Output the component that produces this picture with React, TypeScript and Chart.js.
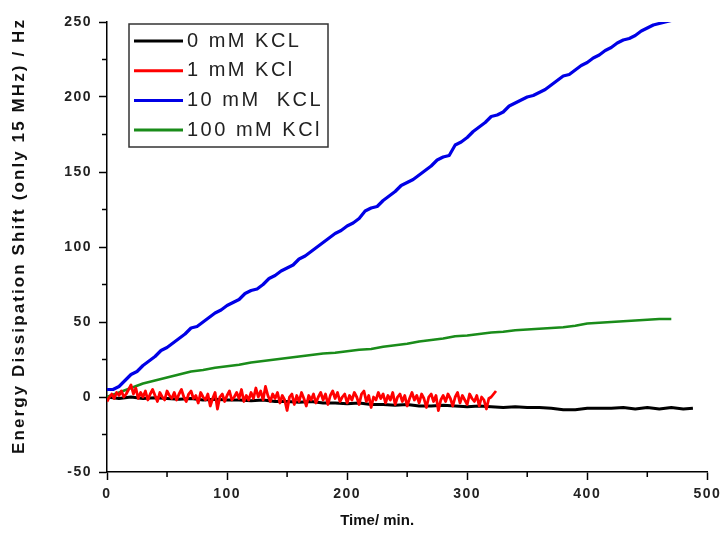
import React, { useEffect, useRef } from 'react';
import { Chart, registerables } from 'chart.js';

Chart.register(...registerables);

// ---------------- data ----------------
const seriesLabels = ['0 mM KCL', '1 mM KCl', '10 mM  KCL', '100 mM KCl'];
const seriesColors = ['#000000', '#ff0000', '#0000e6', '#1a8c1a'];

const xTickValues = [0, 100, 200, 300, 400, 500];
const yTickValues = [-50, 0, 50, 100, 150, 200, 250];
const xMinorTicks = [50, 150, 250, 350, 450];
const yMinorTicks = [-25, 25, 75, 125, 175, 225];

// 0 mM KCL (black), sampled every 10 min, last point at 488 min
const blackTimes = [0, 10, 20, 30, 40, 50, 60, 70, 80, 90, 100, 110, 120, 130, 140, 150, 160, 170, 180, 190, 200, 210, 220, 230, 240, 250, 260, 270, 280, 290, 300, 310, 320, 330, 340, 350, 360, 370, 380, 390, 400, 410, 420, 430, 440, 450, 460, 470, 480, 488];
const blackValues = [0, -1, 0, -1, -0.5, -1, -1.5, -1, -2, -1.5, -2, -2, -2.5, -2, -3, -3, -3.5, -3, -4, -4, -4.5, -4, -5, -5, -5.5, -5, -6, -6, -5.5, -6, -6.5, -6, -6.5, -7, -6.5, -7, -7, -7.5, -8.5, -8.5, -7.5, -7.5, -7.5, -7, -8, -7, -8, -7, -8, -7.5];

// 1 mM KCl (red), sampled every 2 min, 0..324 min
const redStartMin = 0;
const redStepMin = 2;
const redValues = [
  -3, 0, 2, -1, 3, 1, 4, 0, 2, 5,
  8, 2, 6, -1, 3, 0, 4, -2, 2, 5,
  1, -3, 3, 0, -2, 4, 1, -1, 3, -2,
  2, 5, 0, -3, 2, 4, -1, 1, -4, 3,
  0, -2, 2, -6, -1, 3, -8, 0, 2, -3,
  1, 4, -2, 0, 3, -1, 5, -3, 1, -2,
  3, -1, 6, 0, 4, -2, 7, 1, -3, 2,
  -1, 3, -4, 1, -2, -9, 0, 2, -5, 1,
  -3, 3, -1, -6, 1, -2, 2, -4, 0, 3,
  -2, 2, -5, 1, 4, -1, 3, -3, 0, 2,
  -4, 1, -2, 3, 0, -5, 2, 4, -3, 1,
  -7, 0, -2, 3, -1, 2, -4, 1, -2, 3,
  -5, 0, 2, -3, 1, -6, -1, 3, -2, 1,
  -4, 2, -1, -7, 0, 2, -3, 1, -9, -2,
  1, -3, 2, -1, -6, 0, 3, -4, 1, -2,
  -5, 2, -1, -3, 1, -6, 0, -2, -8, -1,
  0, 2, 4
];

// 10 mM KCL (blue), sampled every 5 min, 0..475 min
const blueStartMin = 0;
const blueStepMin = 5;
const blueValues = [
  5, 5, 7, 11, 15, 17, 21, 24, 27, 31,
  33, 36, 39, 42, 46, 47, 50, 53, 56, 58,
  61, 63, 65, 69, 71, 72, 75, 79, 81, 84,
  86, 88, 92, 94, 97, 100, 103, 106, 109, 111,
  114, 116, 119, 124, 126, 127, 131, 134, 137, 141,
  143, 145, 148, 151, 154, 158, 160, 161, 168, 170,
  173, 177, 180, 183, 187, 188, 190, 194, 196, 198,
  200, 201, 203, 205, 208, 211, 214, 215, 218, 221,
  223, 226, 228, 231, 233, 236, 238, 239, 241, 244,
  246, 248, 249, 250, 251, 252
];

// 100 mM KCl (green), sampled every 10 min, 0..470 min
const greenStartMin = 0;
const greenStepMin = 10;
const greenValues = [
  0, 3, 6, 9, 11, 13, 15, 17, 18, 19.5,
  20.5, 21.5, 23, 24, 25, 26, 27, 28, 29, 29.5,
  30.5, 31.5, 32, 33.5, 34.5, 35.5, 37, 38, 39, 40.5,
  41, 42, 43, 43.5, 44.5, 45, 45.5, 46, 46.5, 47.5,
  49, 49.5, 50, 50.5, 51, 51.5, 52, 52
];

// ---------------- helpers ----------------
const gridPoints = (start: number, step: number, values: number[]) =>
  values.map((v, i) => ({ x: start + i * step, y: v }));
const pairPoints = (times: number[], values: number[]) =>
  values.map((v, i) => ({ x: times[i], y: v }));

const FONT = "'Liberation Sans', Arial, sans-serif";

function patchScale(scale: any, method: string, spacing: string, dx: number, dy: number) {
  if (!scale || scale['__patched_' + method]) return;
  const orig = scale[method];
  scale[method] = function (...args: any[]) {
    const ctx = this.ctx;
    ctx.save();
    try { ctx.letterSpacing = spacing; } catch (e) { /* ignore */ }
    ctx.translate(dx, dy);
    orig.apply(this, args);
    ctx.restore();
  };
  scale['__patched_' + method] = true;
}

const stylePlugin = {
  id: 'styleLegendMinor',
  beforeDraw(chart: any) {
    patchScale(chart.scales.x, 'drawLabels', '1.5px', 0, 0);
    patchScale(chart.scales.y, 'drawLabels', '1.5px', 0, 0);
    patchScale(chart.scales.y, 'drawTitle', '2.1px', 0, -11);
    patchScale(chart.scales.x, 'drawTitle', '0px', -30, 0);
  },
  afterDraw(chart: any) {
    const ctx = chart.ctx;
    const { x, y } = chart.scales;
    const area = chart.chartArea;
    ctx.save();
    // minor ticks
    ctx.strokeStyle = '#000';
    ctx.lineWidth = 1.5;
    ctx.beginPath();
    yMinorTicks.forEach((v) => {
      const py = y.getPixelForValue(v);
      ctx.moveTo(area.left - 5, py);
      ctx.lineTo(area.left, py);
    });
    xMinorTicks.forEach((v) => {
      const px = x.getPixelForValue(v);
      ctx.moveTo(px, area.bottom);
      ctx.lineTo(px, area.bottom + 5);
    });
    ctx.stroke();

    // legend
    const bx = area.left + 22;
    const by = area.top + 2;
    const bw = 199;
    const bh = 123;
    ctx.fillStyle = '#fff';
    ctx.fillRect(bx, by, bw, bh);
    ctx.strokeStyle = '#333';
    ctx.lineWidth = 1.5;
    ctx.strokeRect(bx, by, bw, bh);
    ctx.font = `20px ${FONT}`;
    ctx.textBaseline = 'middle';
    ctx.textAlign = 'left';
    try { ctx.letterSpacing = '2.5px'; } catch (e) { /* ignore */ }
    seriesLabels.forEach((lab, i) => {
      const ry = by + 17 + i * 29.7;
      ctx.strokeStyle = seriesColors[i];
      ctx.lineWidth = 3;
      ctx.beginPath();
      ctx.moveTo(bx + 5, ry);
      ctx.lineTo(bx + 54, ry);
      ctx.stroke();
      ctx.fillStyle = '#222';
      ctx.fillText(lab, bx + 58, ry);
    });
    ctx.restore();
  },
};

export default function App() {
  const ref = useRef<HTMLCanvasElement | null>(null);

  useEffect(() => {
    if (!ref.current) return;
    const tickFont = { family: FONT, size: 14, weight: 'bold' as const };
    const chart = new Chart(ref.current, {
      type: 'line',
      data: {
        datasets: [
          {
            label: seriesLabels[0],
            data: pairPoints(blackTimes, blackValues),
            borderColor: seriesColors[0],
            borderWidth: 3,
            order: 3,
          },
          {
            label: seriesLabels[1],
            data: gridPoints(redStartMin, redStepMin, redValues),
            borderColor: seriesColors[1],
            borderWidth: 2.8,
            order: 0,
          },
          {
            label: seriesLabels[2],
            data: gridPoints(blueStartMin, blueStepMin, blueValues),
            borderColor: seriesColors[2],
            borderWidth: 3.2,
            order: 2,
          },
          {
            label: seriesLabels[3],
            data: gridPoints(greenStartMin, greenStepMin, greenValues),
            borderColor: seriesColors[3],
            borderWidth: 2.6,
            order: 1,
          },
        ].map((d) => ({
          ...d,
          pointRadius: 0,
          fill: false,
          tension: 0,
          borderJoinStyle: 'round' as const,
        })),
      },
      options: {
        animation: false,
        responsive: true,
        maintainAspectRatio: false,
        layout: { padding: { left: 5, right: 15, top: 22, bottom: 5 } },
        plugins: {
          legend: { display: false },
          tooltip: { enabled: false },
        },
        scales: {
          x: {
            type: 'linear',
            min: 0,
            max: 500,
            afterBuildTicks: (s: any) => { s.ticks = xTickValues.map((v) => ({ value: v })); },
            ticks: { color: '#222', font: tickFont, padding: 6, maxRotation: 0 },
            grid: { drawOnChartArea: false, drawTicks: true, tickLength: 8, tickWidth: 1.5, tickColor: '#000' },
            border: { display: true, color: '#000', width: 1.5 },
            title: {
              display: true,
              text: 'Time/ min.',
              color: '#111',
              font: { family: FONT, size: 15, weight: 'bold' },
              padding: { top: 4, bottom: 4 },
            },
            afterFit: (s: any) => { s.height = 62; },
          },
          y: {
            type: 'linear',
            min: -50,
            max: 250,
            afterBuildTicks: (s: any) => { s.ticks = yTickValues.map((v) => ({ value: v })); },
            ticks: { color: '#222', font: tickFont, padding: 7 },
            grid: { drawOnChartArea: false, drawTicks: true, tickLength: 8, tickWidth: 1.5, tickColor: '#000' },
            border: { display: true, color: '#000', width: 1.5 },
            title: {
              display: true,
              text: 'Energy Dissipation Shift (only 15 MHz) / Hz',
              color: '#111',
              font: { family: FONT, size: 17, weight: 'bold' },
              padding: { top: 4, bottom: 4 },
            },
            afterFit: (s: any) => { s.width = 102; },
          },
        },
      },
      plugins: [stylePlugin],
    });
    return () => chart.destroy();
  }, []);

  return (
    <div style={{ position: 'absolute', left: 0, top: 0, width: 725, height: 539, background: '#fff' }}>
      <canvas ref={ref} />
    </div>
  );
}
